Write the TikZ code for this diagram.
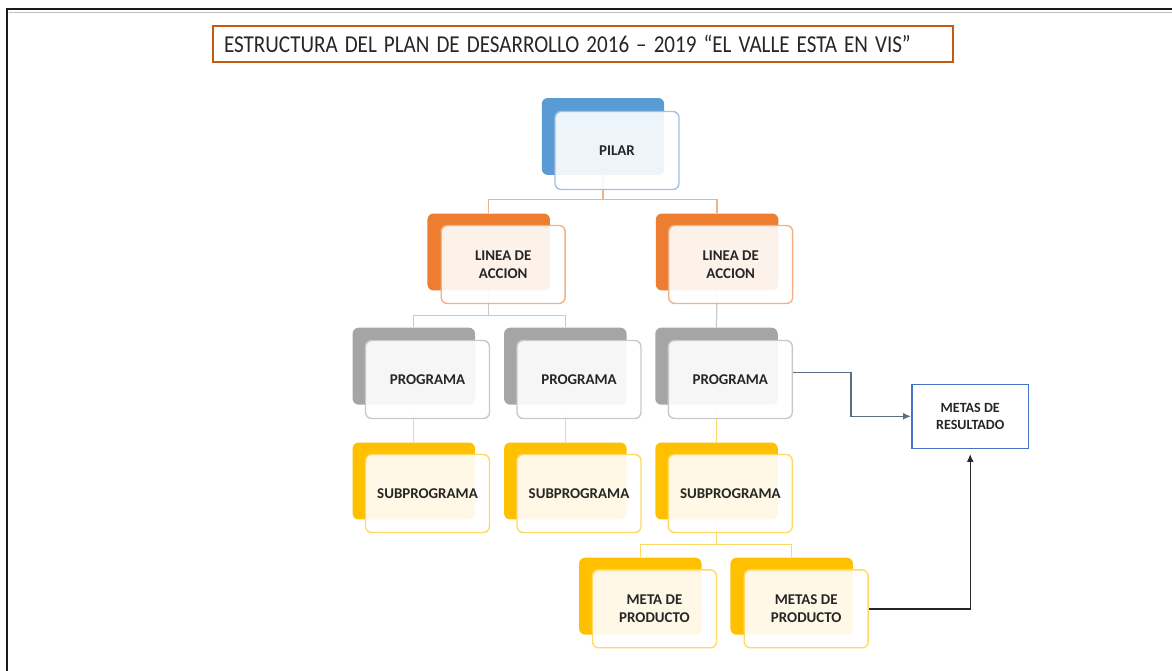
\documentclass[tikz,border=0pt]{standalone}
\usepackage{fontspec}
\setmainfont{Carlito}
\usepackage{xcolor}
\usepackage{tikz}
\usetikzlibrary{calc,arrows.meta}
\definecolor{ink}{HTML}{262626}
\definecolor{frame}{HTML}{1A1A1A}
\definecolor{titleedge}{HTML}{C55A11}
\definecolor{bluedark}{HTML}{5B9BD5}
\definecolor{bluelight}{HTML}{9DC3E6}
\definecolor{orangedark}{HTML}{ED7D31}
\definecolor{orangelight}{HTML}{F4B183}
\definecolor{greydark}{HTML}{A5A5A5}
\definecolor{greylight}{HTML}{C9C9C9}
\definecolor{golddark}{HTML}{FFC000}
\definecolor{goldlight}{HTML}{FFD966}
\definecolor{resedge}{HTML}{4472C4}
\definecolor{slate}{HTML}{5D6D82}
\tikzset{
  back/.style={rounded corners=3.5pt, minimum width=2.45cm, minimum height=1.54cm, inner sep=0pt},
  front/.style={rounded corners=3.5pt, fill=white, fill opacity=0.9, text opacity=1, draw opacity=1,
    line width=0.8pt, minimum width=2.48cm, minimum height=1.56cm, inner sep=0pt, align=center,
    text=ink, font=\fontsize{8.5}{10}\selectfont\bfseries},
  link/.style={line width=0.7pt},
  res/.style={draw=resedge, line width=0.9pt, minimum width=2.34cm, minimum height=1.28cm, inner sep=0pt,
    align=center, text=ink, font=\fontsize{8}{9.3}\selectfont\bfseries},
  tip/.style={-{Latex[length=4.5pt,width=4pt]}, line width=0.8pt},
}
\begin{document}
\begin{tikzpicture}[x=0.02cm,y=-0.02cm]
  \useasboundingbox (0,0) rectangle (1172,671);
  % frame of the page
  \draw[frame, line width=1.3pt] (7,671) -- (7,9) -- (1172,9);
  \draw[black!25, line width=0.9pt] (8.5,12.5) -- (1172,12.5);
  \node[draw=titleedge, line width=1.2pt, minimum width=14.8cm, minimum height=0.72cm, inner xsep=0.22cm,
    text width=14.36cm, align=left, text=ink, font=\fontsize{12}{13}\selectfont] (title) at (583,44)
    {\scalebox{1}[1.15]{ESTRUCTURA DEL PLAN DE DESARROLLO 2016 -- 2019 “EL VALLE ESTA EN VIS”}};
  % back cards
  \node[back, fill=bluedark] (pilarB) at (603,136.5) {};
  \node[back, fill=orangedark] (lineaAB) at (488.7,252) {};
  \node[back, fill=orangedark] (lineaBB) at (717,252) {};
  \node[back, fill=greydark] (progAB) at (413.8,366.2) {};
  \node[back, fill=greydark] (progBB) at (565.3,366.2) {};
  \node[back, fill=greydark] (progCB) at (716.5,366.2) {};
  \node[back, fill=golddark] (subAB) at (413.8,481) {};
  \node[back, fill=golddark] (subBB) at (565.3,481) {};
  \node[back, fill=golddark] (subCB) at (716.5,481) {};
  \node[back, fill=golddark] (metaAB) at (640.3,596.2) {};
  \node[back, fill=golddark] (metaBB) at (791.7,596.2) {};
  % tree links
  \draw[link, orangelight] (pilarB.south) -- ++(0,24) -| (lineaAB.north);
  \draw[link, orangelight] (pilarB.south) -- ++(0,24) -| (lineaBB.north);
  \draw[link, greylight] (lineaAB.south) -- ++(0,25) -| (progAB.north);
  \draw[link, greylight] (lineaAB.south) -- ++(0,25) -| (progBB.north);
  \draw[link, greylight] (lineaBB.south) -- (progCB.north);
  \draw[link, goldlight] (progAB.south) -- (subAB.north);
  \draw[link, goldlight] (progBB.south) -- (subBB.north);
  \draw[link, goldlight] (progCB.south) -- (subCB.north);
  \draw[link, goldlight] (subCB.south) -- ++(0,25) -| (metaAB.north);
  \draw[link, goldlight] (subCB.south) -- ++(0,25) -| (metaBB.north);
  % front cards
  \node[front, draw=bluelight] (pilar) at (617,150.5) {PILAR};
  \node[front, draw=orangelight] (lineaA) at (503.2,264.5) {LINEA DE\\ACCION};
  \node[front, draw=orangelight] (lineaB) at (730.7,264.5) {LINEA DE\\ACCION};
  \node[front, draw=greylight] (progA) at (427.5,379.5) {PROGRAMA};
  \node[front, draw=greylight] (progB) at (579,379.5) {PROGRAMA};
  \node[front, draw=greylight] (progC) at (730.3,379.5) {PROGRAMA};
  \node[front, draw=goldlight] (subA) at (427.5,493.5) {SUBPROGRAMA};
  \node[front, draw=goldlight] (subB) at (579,493.5) {SUBPROGRAMA};
  \node[front, draw=goldlight] (subC) at (730.3,493.5) {SUBPROGRAMA};
  \node[front, draw=goldlight] (metaA) at (654.5,608.8) {META DE\\PRODUCTO};
  \node[front, draw=goldlight] (metaB) at (806.2,608.8) {METAS DE\\PRODUCTO};
  % result box and arrows
  \node[res] (result) at (970.2,416.3) {METAS DE\\RESULTADO};
  \draw[tip, slate] ([yshift=0.14cm]progC.east) -- ++(58,0) |- (result.west);
  \draw[tip, ink, shorten >=0.1cm] (metaB.east) -| (result.south);
\end{tikzpicture}
\end{document}
